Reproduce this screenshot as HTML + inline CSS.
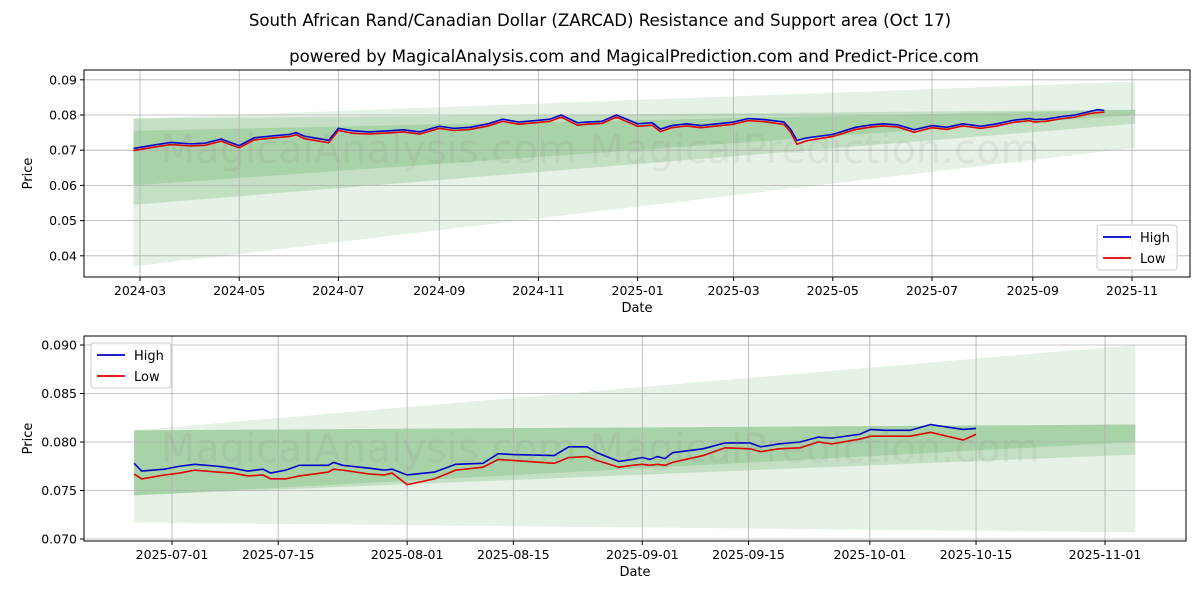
<!DOCTYPE html>
<html><head><meta charset="utf-8"><style>
body{margin:0;background:#fff;font-family:"Liberation Sans","DejaVu Sans",sans-serif}
svg text{font-family:"DejaVu Sans","Liberation Sans",sans-serif}
</style></head><body>
<svg id="c" width="1200" height="600" xmlns="http://www.w3.org/2000/svg">
<rect width="1200" height="600" fill="#fff"/>
<text x="600" y="26" text-anchor="middle" font-size="16.6">South African Rand/Canadian Dollar (ZARCAD) Resistance and Support area (Oct 17)</text>
<text x="634" y="62" text-anchor="middle" font-size="16.6">powered by MagicalAnalysis.com and MagicalPrediction.com and Predict-Price.com</text>
</svg>
<script>
// ---- data: top chart (days since 2024-03-01) ----
const topDays=[-4,9,19,31,40,50,52,61,70,80,92,96,101,116,122,131,141,153,162,172,184,193,203,214,223,233,245,252,259,269,275,284,293,306,315,320,327,336,345,355,365,374,384,396,400,404,410,426,440,450,457,466,476,487,496,506,517,527,537,547,550,557,566,575,584,589,593],
topHigh=[0.0705,0.0715,0.0722,0.0718,0.0720,0.0732,0.0728,0.0713,0.0735,0.0740,0.0745,0.0750,0.0740,0.0728,0.0762,0.0755,0.0752,0.0755,0.0758,0.0752,0.0768,0.0762,0.0765,0.0775,0.0788,0.0780,0.0785,0.0788,0.0800,0.0778,0.0780,0.0782,0.0800,0.0775,0.0778,0.0760,0.0770,0.0775,0.0770,0.0775,0.0780,0.0790,0.0787,0.0780,0.0760,0.0728,0.0735,0.0745,0.0765,0.0772,0.0775,0.0772,0.0758,0.0770,0.0765,0.0775,0.0768,0.0775,0.0785,0.0790,0.0787,0.0788,0.0795,0.0800,0.0810,0.0815,0.0813],
topLow=[0.0699,0.0709,0.0716,0.0712,0.0714,0.0726,0.0722,0.0707,0.0729,0.0734,0.0739,0.0744,0.0733,0.0721,0.0756,0.0748,0.0746,0.0749,0.0752,0.0746,0.0762,0.0756,0.0759,0.0769,0.0782,0.0774,0.0779,0.0782,0.0794,0.0771,0.0774,0.0776,0.0794,0.0768,0.0771,0.0753,0.0764,0.0769,0.0764,0.0769,0.0774,0.0784,0.0781,0.0773,0.0752,0.0717,0.0727,0.0739,0.0759,0.0766,0.0769,0.0766,0.0751,0.0764,0.0759,0.0769,0.0762,0.0769,0.0779,0.0784,0.0780,0.0782,0.0789,0.0794,0.0804,0.0807,0.0808];
const topTickLabels=["2024-03","2024-05","2024-07","2024-09","2024-11","2025-01","2025-03","2025-05","2025-07","2025-09","2025-11"];
const topTickDays=[0,61,122,184,245,306,365,426,487,549,610];
const topYTicks=[0.04,0.05,0.06,0.07,0.08,0.09];
// bands [startTop,endTop,startBottom,endBottom]
const topBands=[[0.0790,0.0895,0.0370,0.0707],[0.0790,0.0815,0.0545,0.0775],[0.0755,0.0815,0.0600,0.0800]];
const topBandDays=[-4,612];
// ---- data: bottom chart (days since 2025-07-01) ----
const botDays=[-5,-4,-1,1,3,6,8,10,12,13,15,16.8,20.6,21.3,22.5,26,28,29,31,34.6,37.4,41,43,45,50.4,52.3,54.7,56,58.9,60.7,62,63,64,65,66,70,72.9,76.2,77.6,80,82.8,85.2,87,90.7,92.1,94,97.3,100,104.3,106];
const botHigh=[0.0778,0.0770,0.0772,0.0775,0.0777,0.0775,0.0773,0.0770,0.0772,0.0768,0.0771,0.0776,0.0776,0.0779,0.0776,0.0773,0.0771,0.0772,0.0766,0.0769,0.0777,0.0778,0.0788,0.0787,0.0786,0.0795,0.0795,0.0789,0.0780,0.0782,0.0784,0.0782,0.0785,0.0783,0.0789,0.0793,0.0799,0.0799,0.0795,0.0798,0.0800,0.0805,0.0804,0.0808,0.0813,0.0812,0.0812,0.0818,0.0813,0.0814];
const botLow=[0.0767,0.0762,0.0766,0.0768,0.0771,0.0769,0.0768,0.0765,0.0766,0.0762,0.0762,0.0765,0.0769,0.0772,0.0771,0.0767,0.0766,0.0768,0.0756,0.0762,0.0771,0.0774,0.0782,0.0781,0.0778,0.0784,0.0785,0.0781,0.0774,0.0776,0.0777,0.0776,0.0777,0.0776,0.0779,0.0786,0.0794,0.0793,0.0790,0.0793,0.0794,0.0800,0.0798,0.0803,0.0806,0.0806,0.0806,0.0810,0.0802,0.0808];
const botTickLabels=["2025-07-01","2025-07-15","2025-08-01","2025-08-15","2025-09-01","2025-09-15","2025-10-01","2025-10-15","2025-11-01"];
const botTickDays=[0,14,31,45,62,76,92,106,123];
const botYTicks=[0.070,0.075,0.080,0.085,0.090];
const botBands=[[0.0812,0.0900,0.0717,0.0707],[0.0812,0.0818,0.0745,0.0787],[0.0812,0.0818,0.0745,0.0800]];
const botBandDays=[-5,127];

const svg=document.getElementById('c');const NS='http://www.w3.org/2000/svg';
function el(t,a,p){const e=document.createElementNS(NS,t);for(const k in a)e.setAttribute(k,a[k]);(p||svg).appendChild(e);return e;}

function panel(o){
  const g=el('g',{});
  
  
  const X=d=>o.x0+d*o.xs, Y=v=>o.y0+(o.v0-v)*o.ys;
  o.bands.forEach((b,i)=>{
    const a=X(o.bandDays[0]),c=X(o.bandDays[1]);
    const p=el('polygon',{points:`${a},${Y(b[0])} ${c},${Y(b[1])} ${c},${Y(b[3])} ${a},${Y(b[2])}`,fill:'#3a9a3a','fill-opacity':i==0?0.13:0.2},g);
    
    
  });
  o.xt.forEach((d,i)=>{
    const x=X(d);
    el('line',{x1:x,x2:x,y1:o.top,y2:o.bot,stroke:'#b0b0b0','stroke-width':0.8},g);
    el('line',{x1:x,x2:x,y1:o.bot,y2:o.bot+4,stroke:'#000'},g);
    const t=el('text',{x:x,y:o.bot+18,'text-anchor':'middle','font-size':12.5},g);t.textContent=o.xl[i];
    
    
  });
  o.yt.forEach(v=>{
    const y=Y(v);
    el('line',{x1:o.left,x2:o.right,y1:y,y2:y,stroke:'#b0b0b0','stroke-width':0.8},g);
    el('line',{x1:o.left-4,x2:o.left,y1:y,y2:y,stroke:'#000'},g);
    const t=el('text',{x:o.left-7,y:y+4.5,'text-anchor':'end','font-size':12.5},g);t.textContent=v.toFixed(o.dec);
    
    
  });
  [[o.high,'#0000cc','high-line'],[o.low,'#e00000','low-line']].forEach(s=>{
    const pl=el('polyline',{points:o.days.map((d,i)=>X(d)+','+Y(s[0][i])).join(' '),fill:'none',stroke:s[1],'stroke-width':1.6},g);
    
    
  });
  const w=el('text',{x:600,y:o.wm,'text-anchor':'middle','font-size':40,fill:'#888','fill-opacity':0.13},g);
  w.textContent='MagicalAnalysis.com    MagicalPrediction.com';
  
  
  el('rect',{x:o.left,y:o.top,width:o.right-o.left,height:o.bot-o.top,fill:'none',stroke:'#000','stroke-width':1},g);
  const xl=el('text',{x:(o.left+o.right)/2,y:o.bot+35,'text-anchor':'middle','font-size':13},g);xl.textContent='Date';
  
  
  const yl=el('text',{x:0,y:0,'text-anchor':'middle','font-size':13,transform:`translate(${o.left-52},${(o.top+o.bot)/2}) rotate(-90)`},g);yl.textContent='Price';
  
  
  const L=el('g',{},g);
  
  
  el('rect',{x:o.lx,y:o.ly,width:80,height:45,rx:3,fill:'#fff','fill-opacity':0.85,stroke:'#ccc'},L);
  [['High','#0000cc'],['Low','#e00000']].forEach((s,i)=>{
    const y=o.ly+12+i*21;
    el('line',{x1:o.lx+6,x2:o.lx+34,y1:y,y2:y,stroke:s[1],'stroke-width':1.8},L);
    const t=el('text',{x:o.lx+43,y:y+5,'font-size':13},L);t.textContent=s[0];
    
    
  });
}
panel({name:'top-chart',left:84,right:1190,top:70,bot:277,x0:140,xs:992/610,y0:115,v0:0.08,ys:3520,
  bands:topBands,bandDays:topBandDays,xt:topTickDays,xl:topTickLabels,yt:topYTicks,dec:2,
  days:topDays,high:topHigh,low:topLow,lx:1097,ly:225,wm:163});
panel({name:'bottom-chart',left:84,right:1186,top:336,bot:541,x0:172,xs:933/123,y0:442,v0:0.08,ys:9700,
  bands:botBands,bandDays:botBandDays,xt:botTickDays,xl:botTickLabels,yt:botYTicks,dec:3,
  days:botDays,high:botHigh,low:botLow,lx:91,ly:343,wm:462});
</script>
</body></html>
